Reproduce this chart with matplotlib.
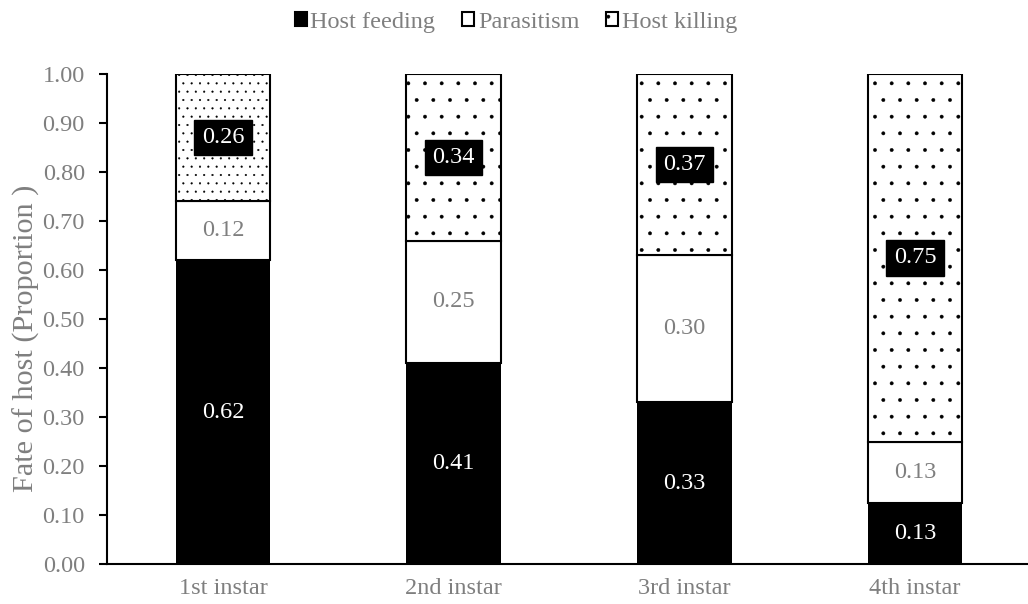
import matplotlib
matplotlib.use("Agg")
import matplotlib.pyplot as plt
from matplotlib.patches import Patch

plt.rcParams["font.family"] = ["Liberation Serif", "DejaVu Serif"]
plt.rcParams["hatch.linewidth"] = 0.3

instars = ["1st instar", "2nd instar", "3rd instar", "4th instar"]
host_feeding = [0.62, 0.41, 0.33, 0.125]
parasitism = [0.12, 0.25, 0.30, 0.125]
host_killing = [0.26, 0.34, 0.37, 0.75]
feeding_labels = ["0.62", "0.41", "0.33", "0.13"]
parasitism_labels = ["0.12", "0.25", "0.30", "0.13"]
killing_labels = ["0.26", "0.34", "0.37", "0.75"]
killing_hatch = ["..", ".", ".", "."]

gray = "#7f7f7f"
fs = 17.5

fig = plt.figure(figsize=(10.28, 6.04), dpi=100)
ax = fig.add_axes([107 / 1028, 1 - 564 / 604, 1 - 107 / 1028, (564 - 74) / 604])

x = list(range(len(instars)))
w = 0.41
bottom2 = [a + b for a, b in zip(host_feeding, parasitism)]

ax.bar(x, host_feeding, w, color="black", edgecolor="black", linewidth=0)
ax.bar(x, parasitism, w, bottom=host_feeding, color="white",
       edgecolor="black", linewidth=1.5)
for i in x:
    ax.bar(i, host_killing[i], w, bottom=bottom2[i], color="white",
           edgecolor="black", linewidth=1.5, hatch=killing_hatch[i])

for i in x:
    ax.text(i, host_feeding[i] / 2, feeding_labels[i], ha="center", va="center",
            color="white", fontsize=fs)
    ax.text(i, host_feeding[i] + parasitism[i] / 2, parasitism_labels[i],
            ha="center", va="center", color=gray, fontsize=fs)
    ax.text(i, bottom2[i] + host_killing[i] / 2, killing_labels[i],
            ha="center", va="center", color="white", fontsize=fs,
            bbox=dict(boxstyle="square,pad=0.3", facecolor="black",
                      edgecolor="black"))

ax.set_xlim(-0.503, 3.49)
ax.set_ylim(0, 1.0)
ax.set_yticks([i / 10 for i in range(11)])
ax.set_yticklabels([f"{i / 10:.2f}" for i in range(11)])
ax.set_xticks(x)
ax.set_xticklabels(instars)
ax.tick_params(axis="x", length=0, pad=10, labelcolor=gray, labelsize=fs)
ax.tick_params(axis="y", direction="out", length=6, width=1.5, pad=10,
               labelcolor=gray, labelsize=fs)
for s in ["top", "right"]:
    ax.spines[s].set_visible(False)
ax.spines["left"].set_linewidth(1.5)
ax.spines["bottom"].set_linewidth(1.5)
ax.set_ylabel("Fate of host (Proportion )", color=gray, fontsize=21.8)
ax.yaxis.set_label_coords(-0.073, 0.461)

handles = [
    Patch(facecolor="black", edgecolor="black", linewidth=1.5),
    Patch(facecolor="white", edgecolor="black", linewidth=1.5),
    Patch(facecolor="white", edgecolor="black", linewidth=1.5, hatch="."),
]
leg = fig.legend(handles, ["Host feeding", "Parasitism", "Host killing"],
                 loc="center", bbox_to_anchor=(0.502, 0.963), ncol=3,
                 frameon=False, fontsize=fs, handlelength=0.5,
                 handleheight=0.5, handletextpad=0.15, columnspacing=1.1)
for t in leg.get_texts():
    t.set_color(gray)

fig.savefig("out.png", dpi=100)
